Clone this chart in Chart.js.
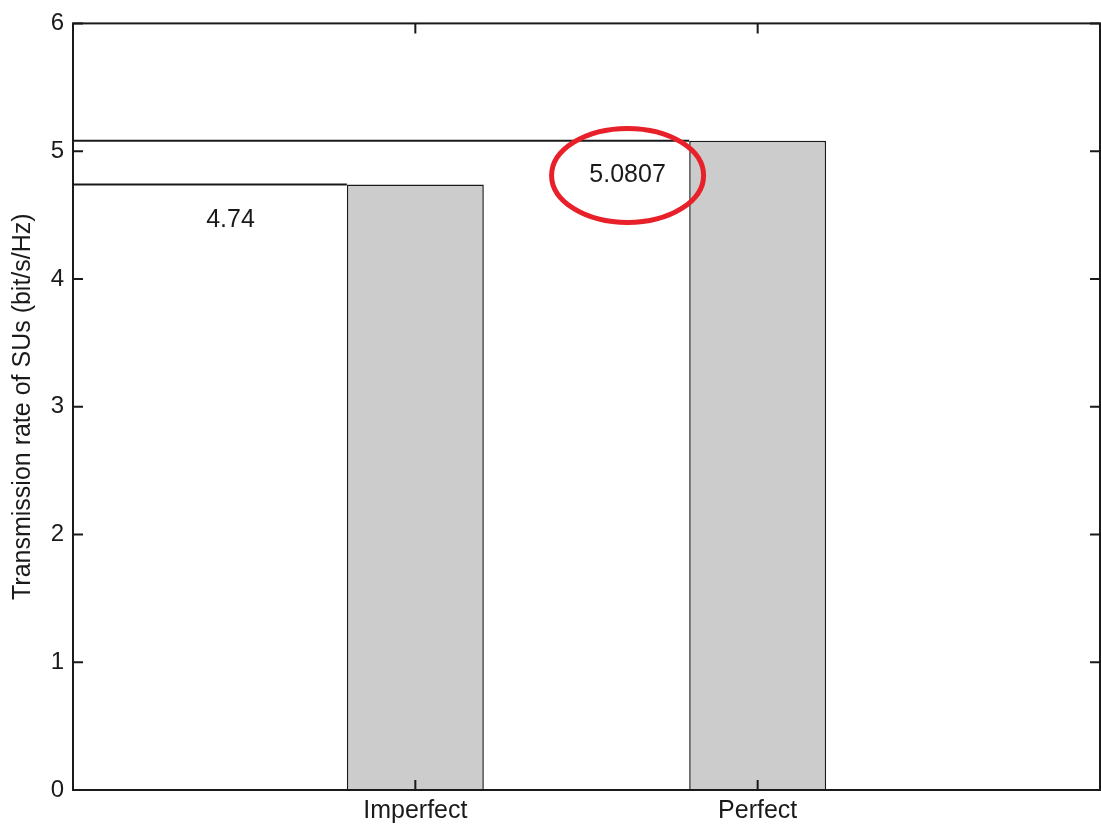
<!DOCTYPE html>
<html>
<head>
<meta charset="utf-8">
<script src="https://cdn.jsdelivr.net/npm/chart.js@4"></script>
<style>
  body { margin: 0; background: #fff; }
  canvas { display: block; }
</style>
</head>
<body>
<canvas id="chartRate" width="1101" height="825"></canvas>
<script>
const categories = ['Imperfect', 'Perfect'];
const xPositions = [1, 2];
const rates = [4.74, 5.0807];
const yTicks = [0, 1, 2, 3, 4, 5, 6];
const rateLabels = ['4.74', '5.0807'];
// where the value texts sit, in data units
const labelX = [0.46, 1.62];
const labelY = [4.46, 4.81];

const axisColor = '#1a1a1a';
const textColor = '#1a1a1a';
const fontFamily = '"Liberation Sans", Arial, sans-serif';

const boxPlugin = {
    id: 'boxPlugin',
    afterDatasetsDraw(chart) {
        const ctx = chart.ctx;
        const a = chart.chartArea;
        const xs = chart.scales.x, ys = chart.scales.y;
        const bars = chart.getDatasetMeta(0).data;

        ctx.save();
        // reference lines from the axis to each bar
        ctx.strokeStyle = axisColor;
        ctx.lineWidth = 2;
        bars.forEach((bar, i) => {
            const y = ys.getPixelForValue(rates[i]);
            ctx.beginPath();
            ctx.moveTo(a.left, y);
            ctx.lineTo(bar.x - bar.width / 2, y);
            ctx.stroke();
        });

        // value texts
        ctx.fillStyle = textColor;
        ctx.font = '25px ' + fontFamily;
        ctx.textAlign = 'center';
        ctx.textBaseline = 'middle';
        rateLabels.forEach((t, i) => {
            ctx.fillText(t, xs.getPixelForValue(labelX[i]), ys.getPixelForValue(labelY[i]));
        });

        // red ellipse round the perfect value
        ctx.strokeStyle = '#e8202a';
        ctx.lineWidth = 5;
        ctx.beginPath();
        ctx.ellipse(xs.getPixelForValue(labelX[1]), ys.getPixelForValue(labelY[1]), 76, 47, 0, 0, Math.PI * 2);
        ctx.stroke();

        // axes box with inward ticks
        ctx.strokeStyle = axisColor;
        ctx.lineWidth = 2;
        ctx.strokeRect(a.left, a.top, a.right - a.left, a.bottom - a.top);
        const tl = 10;
        ctx.beginPath();
        yTicks.forEach(v => {
            const y = ys.getPixelForValue(v);
            ctx.moveTo(a.left, y); ctx.lineTo(a.left + tl, y);
            ctx.moveTo(a.right, y); ctx.lineTo(a.right - tl, y);
        });
        xPositions.forEach(v => {
            const x = xs.getPixelForValue(v);
            ctx.moveTo(x, a.top); ctx.lineTo(x, a.top + tl);
            ctx.moveTo(x, a.bottom); ctx.lineTo(x, a.bottom - tl);
        });
        ctx.stroke();
        ctx.restore();
    }
};

new Chart(document.getElementById('chartRate').getContext('2d'), {
    type: 'bar',
    data: {
        datasets: [{
            data: xPositions.map((x, i) => ({ x: x, y: rates[i] })),
            backgroundColor: '#cccccc',
            borderColor: axisColor,
            borderWidth: 1.5,
            barPercentage: 0.4,
            categoryPercentage: 1.0
        }]
    },
    options: {
        responsive: false,
        animation: false,
        layout: { padding: { top: 23, right: 1, left: 0, bottom: 0 } },
        plugins: { legend: { display: false }, tooltip: { enabled: false } },
        scales: {
            x: {
                type: 'linear', min: 0, max: 3, offset: false,
                afterFit: s => { s.height = 35; s.paddingLeft = 0; s.paddingRight = 0; },
                grid: { display: false, drawTicks: false },
                border: { display: false },
                ticks: {
                    stepSize: 1, color: textColor, padding: 6,
                    font: { family: fontFamily, size: 25 },
                    callback: v => xPositions.includes(v) ? categories[xPositions.indexOf(v)] : ''
                }
            },
            y: {
                min: 0, max: 6,
                afterBuildTicks: s => { s.ticks = yTicks.map(v => ({ value: v })); },
                afterFit: s => { s.width = 73; },
                grid: { display: false, drawTicks: false },
                border: { display: false },
                ticks: {
                    color: textColor, padding: 9,
                    font: { family: fontFamily, size: 24 }
                },
                title: {
                    display: true,
                    text: 'Transmission rate of SUs (bit/s/Hz)',
                    color: textColor,
                    padding: { top: 8, bottom: 0 },
                    font: { family: fontFamily, size: 25 }
                }
            }
        }
    },
    plugins: [boxPlugin]
});
</script>
</body>
</html>
